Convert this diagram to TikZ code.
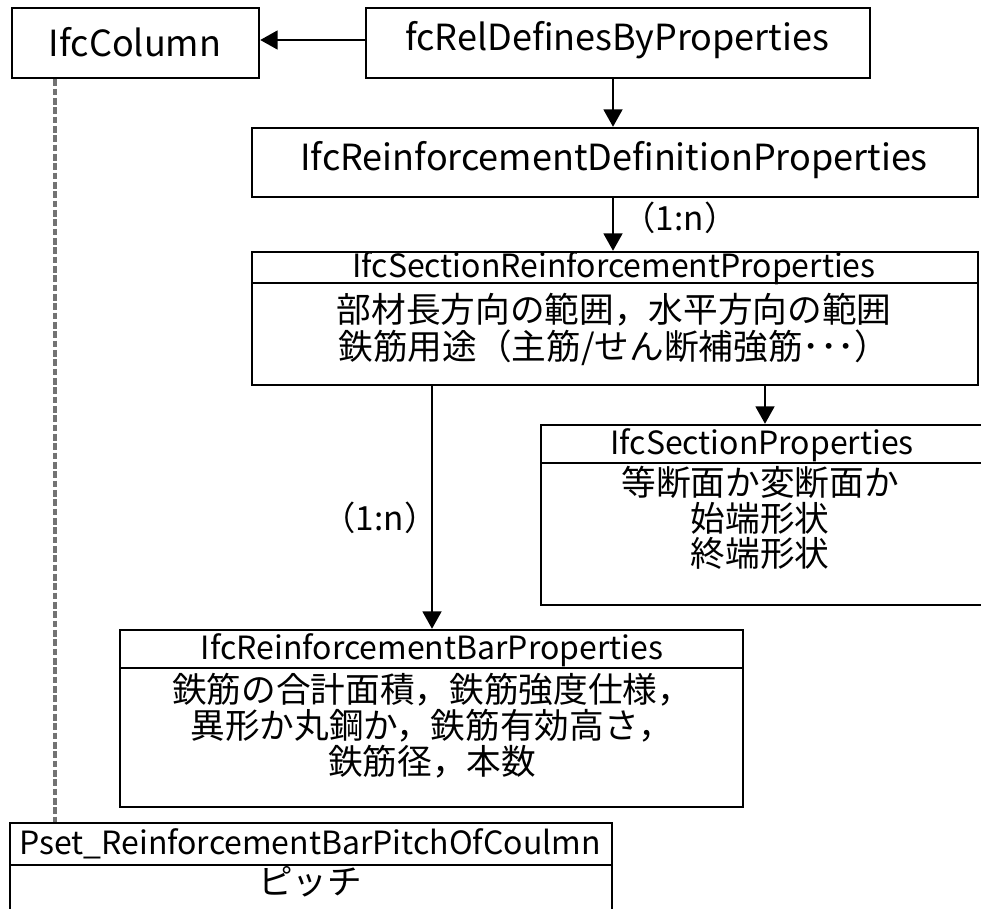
\documentclass[tikz,border=0pt]{standalone}
\usepackage{fontspec}
\setmainfont{Noto Sans CJK JP}
\usetikzlibrary{arrows.meta,fit}

\tikzset{
  box/.style={draw=black, line width=1.8pt, inner sep=0pt, fill=white},
  divider/.style={line width=1.8pt},
  title/.style={font=\fontsize{27}{30}\selectfont, inner sep=0pt},
  head/.style={font=\fontsize{24}{27}\selectfont, inner sep=0pt},
  body/.style={font=\fontsize{26}{29}\selectfont, inner sep=0pt},
  rel/.style={draw=black, line width=1.8pt, -{Triangle[length=13pt,width=14pt]}},
  link/.style={draw=black!55, line width=2.6pt, dash pattern=on 5pt off 2pt},
  mult/.style={font=\fontsize{25}{28}\selectfont, inner sep=0pt}
}

\begin{document}
\begin{tikzpicture}[x=0.75pt, y=-0.75pt]
\useasboundingbox (0,0) rectangle (981,908);

% single-line classes
\node[box, fit={(12,8) (259,78)}] (col) {};
\node[title] at (135,42) {IfcColumn};
\node[box, fit={(366,8) (870,78)}] (rel) {};
\node[title] at (617,40) {fcRelDefinesByProperties};
\node[box, fit={(252,128) (978,197)}] (def) {};
\node[title] at (614,160) {IfcReinforcementDefinitionProperties};

% compartment classes
\node[box, fit={(252,252) (978,385)}] (srp) {};
\draw[divider] (252,283) -- (978,283);
\node[head] at (614,268) {IfcSectionReinforcementProperties};
\node[body] at (614,310) {部材長方向の範囲，水平方向の範囲};
\node[body] at (614,348) {鉄筋用途（主筋/せん断補強筋･･･）};

\node[box, fit={(541,425) (1000,605)}] (sp) {};
\draw[divider] (541,463) -- (1000,463);
\node[head] at (762,445) {IfcSectionProperties};
\node[body] at (760,482) {等断面か変断面か};
\node[body] at (760,518) {始端形状};
\node[body] at (760,553) {終端形状};

\node[box, fit={(120,630) (743,807)}] (bar) {};
\draw[divider] (120,668) -- (743,668);
\node[head] at (432,650) {IfcReinforcementBarProperties};
\node[body] at (432,690) {鉄筋の合計面積，鉄筋強度仕様，};
\node[body] at (432,726) {異形か丸鋼か，鉄筋有効高さ，};
\node[body] at (432,762) {鉄筋径，本数};

\node[box, fit={(10,823) (612,940)}] (pset) {};
\draw[divider] (10,865) -- (612,865);
\node[head] at (310,844) {Pset\_ReinforcementBarPitchOfCoulmn};
\node[body] at (310,882) {ピッチ};

% multiplicities
\node[mult] (m1) at (680,218) {（1:n）};
\node[mult] (m2) at (380,518) {（1:n）};

% connectors
\draw[rel] (rel.west |- 0,40) -- (col.east |- 0,40);
\draw[rel] (rel.south -| 613,0) -- (def.north -| 613,0);
\draw[rel] (def.south -| 613,0) -- (srp.north -| 613,0);
\draw[rel] (srp.south -| 765,0) -- (sp.north -| 765,0);
\draw[rel] (srp.south -| 432,0) -- (bar.north -| 432,0);
\draw[link] (col.south -| 55,0) -- (pset.north -| 55,0);
\end{tikzpicture}
\end{document}
